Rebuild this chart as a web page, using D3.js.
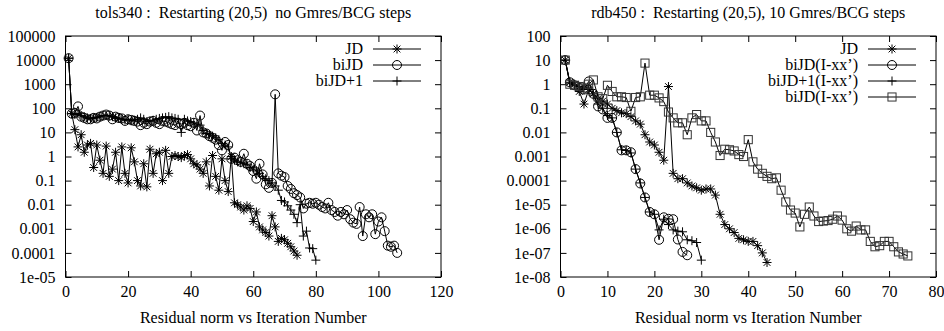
<!DOCTYPE html>
<html>
<head>
<meta charset="utf-8">
<script src="https://cdn.jsdelivr.net/npm/d3@7"></script>
<style>
  body { margin: 0; background: #fff; }
  svg text { font-family: "Liberation Serif", "DejaVu Serif", serif; font-size: 16px; fill: #000; white-space: pre; }
</style>
</head>
<body>
<div id="chart"></div>
<script>
// ---- data: residual norm per iteration (iteration = position + 1) ----
const leftJD = [12000, 60, 13, 2.5, 8, 1.5, 3, 3.5, 0.35, 3, 0.7, 0.2, 2.7, 0.15, 0.3, 1.5, 0.1, 2.5, 0.2, 0.08,
  2.3, 0.6, 0.1, 0.06, 0.5, 0.055, 2, 0.2, 1.3, 1.5, 0.1, 1.8, 0.2, 1.0, 1.1, 1, 0.9, 1.1, 1.2, 0.8,
  0.5, 0.45, 0.3, 0.2, 0.6, 0.06, 1.1, 0.15, 0.04, 0.8, 0.1, 0.035, 1, 0.012, 0.01, 0.008, 0.006, 0.009, 0.007, 0.002,
  0.005, 0.0012, 0.0009, 0.0007, 0.0005, 0.0035, 0.0012, 0.0003, 0.0004, 0.00035, 0.00025, 0.00018, 0.00012, 0.00008];
const leftBiJD = [12000, 60, 65, 120, 45, 40, 35, 35, 40, 38, 45, 50, 55, 50, 35, 45, 40, 38, 30, 35,
  33, 30, 28, 20, 25, 22, 28, 30, 25, 22, 30, 28, 25, 22, 20, 25, 22, 25, 20, 18,
  25, 12, 50, 10, 9, 7, 6, 5, 3, 1.8, 4, 3, 0.8, 0.9, 0.7, 0.6, 1.3, 0.5, 0.4, 0.25,
  0.12, 0.5, 0.18, 0.07, 0.05, 0.08, 380, 0.2, 0.16, 0.14, 0.06, 0.045, 0.03, 0.025, 0.02, 0.007, 0.011, 0.012, 0.011, 0.012,
  0.01, 0.008, 0.007, 0.012, 0.006, 0.005, 0.0035, 0.005, 0.004, 0.006, 0.0025, 0.0018, 0.0016, 0.008, 0.0005, 0.004, 0.003, 0.004, 0.0006, 0.002,
  0.003, 0.0008, 0.0002, 0.00018, 0.0002, 0.0001];
const leftBiJD1 = [12000, 60, 55, 60, 50, 45, 40, 38, 40, 42, 45, 50, 50, 48, 45, 40, 38, 35, 33, 35,
  30, 32, 35, 40, 35, 28, 30, 32, 35, 38, 40, 42, 45, 40, 38, 35, 10, 35, 30, 28,
  25, 22, 20, 12, 9, 8, 7, 6, 5, 3.5, 3, 2.5, 0.8, 0.7, 0.6, 0.55, 0.5, 0.45, 0.35, 0.3,
  0.25, 0.2, 0.15, 0.12, 0.1, 0.08, 0.06, 0.04, 0.015, 0.013, 0.009, 0.006, 0.004, 0.0018, 0.01, 0.0005, 0.0008, 0.00016, 0.00015, 0.00005];

const rightJD = [10, 1.2, 1, 0.5, 0.15, 0.6, 0.4, 0.25, 0.2, 0.15, 0.1, 0.08, 0.065, 0.06, 0.045, 0.03, 0.022, 0.008, 0.004, 0.003,
  0.0015, 0.0007, 0.8, 0.0002, 0.00012, 0.00012, 8e-5, 6e-5, 5e-5, 4e-5, 4.5e-5, 4.5e-5, 2.5e-5, 4e-6, 1.5e-6, 1e-6, 7e-7, 4e-7, 3.5e-7, 3e-7,
  3e-7, 2e-7, 1e-7, 4e-8];
const rightBiJD = [10, 1.2, 0.9, 0.7, 0.6, 1.3, 0.4, 0.12, 0.09, 0.04, 0.04, 0.01, 0.0018, 0.0018, 0.0015, 0.0003, 7.6e-5, 2e-5, 5e-6, 4e-6,
  3.5e-7, 3e-6, 2.6e-6, 2.5e-6, 3.6e-7, 1.1e-7, 8e-8];
const rightBiJD1 = [10, 1.1, 0.9, 0.8, 0.6, 0.7, 0.35, 0.15, 0.1, 0.05, 0.04, 0.01, 0.0019, 0.0018, 0.0014, 0.0003, 8e-5, 2e-5, 5e-6, 4e-6,
  9e-7, 2.5e-6, 1.5e-6, 9e-7, 8e-7, 7.5e-7, 3.5e-7, 3.2e-7, 2.7e-7, 5e-8];
const rightBiJDsq = [10, 1.0, 0.9, 0.8, 0.7, 1.0, 1.5, 0.3, 0.25, 0.9, 0.5, 0.3, 0.3, 0.28, 0.075, 0.28, 0.3, 7.5, 0.35, 0.35,
  0.27, 0.19, 0.07, 0.04, 0.025, 0.025, 0.008, 0.04, 0.055, 0.03, 0.03, 0.01, 0.004, 0.0011, 0.002, 0.0019, 0.0017, 0.0012, 0.001, 0.005,
  0.0006, 0.0003, 0.0002, 0.00015, 0.00012, 0.00013, 4e-5, 1.3e-5, 6e-6, 4.5e-6, 1.2e-6, 4e-6, 8e-6, 3.4e-6, 2e-6, 2.1e-6, 2.2e-6, 2.5e-6, 3.4e-6, 2.3e-6,
  1e-6, 8e-7, 1.3e-6, 9e-7, 9e-7, 3e-7, 1.8e-7, 2e-7, 3e-7, 3e-7, 1.8e-7, 1.1e-7, 9e-8, 7.5e-8];

const leftXTicks = [0, 20, 40, 60, 80, 100, 120];
const leftYTicks = [1e5, 1e4, 1e3, 1e2, 10, 1, 0.1, 0.01, 0.001, 1e-4, 1e-5];
const leftYLabels = ['100000', '10000', '1000', '100', '10', '1', '0.1', '0.01', '0.001', '0.0001', '1e-05'];
const rightXTicks = [0, 10, 20, 30, 40, 50, 60, 70, 80];
const rightYTicks = [100, 10, 1, 0.1, 0.01, 0.001, 1e-4, 1e-5, 1e-6, 1e-7, 1e-8];
const rightYLabels = ['100', '10', '1', '0.1', '0.01', '0.001', '0.0001', '1e-05', '1e-06', '1e-07', '1e-08'];

const W = 944, H = 331;
const svg = d3.select('#chart').append('svg').attr('width', W).attr('height', H);

// marker shapes (gnuplot style)
function marker(g, type, s) {
    if (type === 'star') {
        g.append('path').attr('d', `M${-s},0H${s}M0,${-s}V${s}M${-s*0.75},${-s*0.75}L${s*0.75},${s*0.75}M${-s*0.75},${s*0.75}L${s*0.75},${-s*0.75}`);
    } else if (type === 'plus') {
        g.append('path').attr('d', `M${-s},0H${s}M0,${-s}V${s}`);
    } else if (type === 'circle') {
        g.append('circle').attr('r', s);
    } else if (type === 'square') {
        g.append('rect').attr('x', -s * 0.9).attr('y', -s * 0.9).attr('width', s * 1.8).attr('height', s * 1.8);
    }
}

function panel(opt) {
    const { left, right, top, bottom } = opt;
    const x = d3.scaleLinear().domain(opt.xDomain).range([left, right]);
    const y = d3.scaleLog().domain(opt.yDomain).range([bottom, top]);
    const g = svg.append('g');

    // inward ticks on all four sides
    g.append('g').attr('transform', `translate(0,${bottom})`)
        .call(d3.axisBottom(x).tickValues(opt.xTicks).tickSizeInner(-6).tickSizeOuter(0).tickPadding(9).tickFormat(d3.format('d')));
    g.append('g').attr('transform', `translate(0,${top})`)
        .call(d3.axisTop(x).tickValues(opt.xTicks).tickSizeInner(-6).tickSizeOuter(0).tickFormat(''));
    g.append('g').attr('transform', `translate(${left},0)`)
        .call(d3.axisLeft(y).tickValues(opt.yTicks).tickSizeInner(-6).tickSizeOuter(0).tickPadding(10)
            .tickFormat((d, i) => opt.yLabels[i]));
    g.append('g').attr('transform', `translate(${right},0)`)
        .call(d3.axisRight(y).tickValues(opt.yTicks).tickSizeInner(-6).tickSizeOuter(0).tickFormat(''));
    g.selectAll('.domain').remove();
    g.selectAll('.tick line').attr('stroke', '#000');
    g.selectAll('.tick text').style('font-size', '16px').attr('font-family', null);

    g.append('rect')
        .attr('x', left).attr('y', top)
        .attr('width', right - left).attr('height', bottom - top)
        .attr('fill', 'none').attr('stroke', '#000').attr('stroke-width', 1);

    // title and x label
    svg.append('text').attr('x', (left + right) / 2).attr('y', 18)
        .attr('text-anchor', 'middle').style('font-size', '16px').text(opt.title);
    svg.append('text').attr('x', (left + right) / 2).attr('y', 323)
        .attr('text-anchor', 'middle').style('font-size', '16px').text('Residual norm vs Iteration Number');

    const line = d3.line().x((d, i) => x(i + 1)).y(d => y(d));

    opt.series.forEach(s => {
        g.append('path').datum(s.values)
            .attr('d', line)
            .attr('fill', 'none').attr('stroke', '#000').attr('stroke-width', 1);
        const pts = g.append('g')
            .attr('fill', 'none').attr('stroke', s.marker === 'square' ? '#333' : '#000').attr('stroke-width', 1);
        s.values.forEach((v, i) => {
            const m = pts.append('g').attr('transform', `translate(${x(i + 1)},${y(v)})`);
            marker(m, s.marker, 4.5);
        });
    });

    // legend
    const lg = g.append('g');
    opt.series.forEach((s, k) => {
        const ly = opt.legendY + k * 16;
        lg.append('text').attr('x', opt.legendX).attr('y', ly).attr('dy', '0.32em')
            .attr('text-anchor', 'end').style('font-size', '16px').text(s.name);
        lg.append('line').attr('x1', opt.legendX + 10).attr('x2', opt.legendX + 58)
            .attr('y1', ly).attr('y2', ly).attr('stroke', '#000');
        const m = lg.append('g').attr('transform', `translate(${opt.legendX + 34},${ly})`)
            .attr('fill', 'none').attr('stroke', s.marker === 'square' ? '#333' : '#000');
        marker(m, s.marker, 4.5);
    });
}

panel({
    left: 65.5, right: 441, top: 36, bottom: 277,
    xDomain: [0, 120], yDomain: [1e-5, 1e5],
    xTicks: leftXTicks, yTicks: leftYTicks, yLabels: leftYLabels,
    title: 'tols340 :  Restarting (20,5)  no Gmres/BCG steps',
    legendX: 363, legendY: 49,
    series: [
        { name: 'JD', marker: 'star', values: leftJD },
        { name: 'biJD', marker: 'circle', values: leftBiJD },
        { name: 'biJD+1', marker: 'plus', values: leftBiJD1 }
    ]
});

panel({
    left: 560.5, right: 936, top: 36, bottom: 277,
    xDomain: [0, 80], yDomain: [1e-8, 100],
    xTicks: rightXTicks, yTicks: rightYTicks, yLabels: rightYLabels,
    title: 'rdb450 :  Restarting (20,5), 10 Gmres/BCG steps',
    legendX: 858, legendY: 49,
    series: [
        { name: 'JD', marker: 'star', values: rightJD },
        { name: 'biJD(I-xx\u2019)', marker: 'circle', values: rightBiJD },
        { name: 'biJD+1(I-xx\u2019)', marker: 'plus', values: rightBiJD1 },
        { name: 'biJD(I-xx\u2019)', marker: 'square', values: rightBiJDsq }
    ]
});
</script>
</body>
</html>
